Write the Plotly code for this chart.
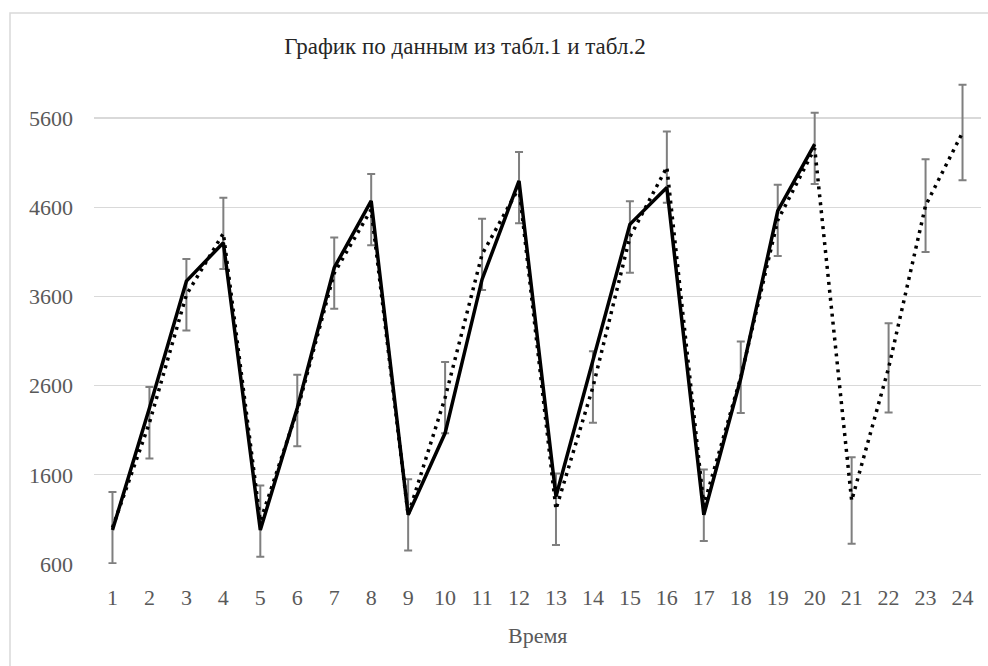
import plotly.graph_objects as go

time_points = list(range(1, 25))
tick_labels = [str(t) for t in time_points]

# Series 1 (solid line, table 1) – times 1..20
table1_values = [982, 2350, 3772, 4203, 982, 2350, 3922, 4671, 1151, 2068,
                 3791, 4896, 1356, 2892, 4409, 4821, 1151, 2680, 4559, 5308]

# Series 2 (dotted line with error bars, table 2) – times 1..24
table2_values = [1008, 2184, 3619, 4308, 1080, 2321, 3862, 4574, 1151, 2465,
                 4072, 4821, 1214, 2585, 4267, 5050, 1259, 2694, 4454, 5261,
                 1311, 2799, 4619, 5439]
table2_errors = [400, 400, 400, 400, 400, 400, 400, 400, 400, 400,
                 400, 400, 400, 400, 400, 400, 400, 400, 400, 400,
                 485, 500, 520, 535]

y_ticks = [600, 1600, 2600, 3600, 4600, 5600]

FONT = "Liberation Serif"

fig = go.Figure()

fig.add_trace(go.Scatter(
    x=time_points, y=table2_values, mode="lines",
    line=dict(color="black", width=3.5, dash="3px,5px"),
    error_y=dict(type="data", array=table2_errors, visible=True,
                 color="#7f7f7f", thickness=2, width=4),
    showlegend=False, cliponaxis=False, hoverinfo="skip",
))

fig.add_trace(go.Scatter(
    x=time_points[:len(table1_values)], y=table1_values, mode="lines",
    line=dict(color="black", width=3.5),
    showlegend=False, cliponaxis=False, hoverinfo="skip",
))

fig.update_layout(
    width=988, height=666,
    margin=dict(l=94, r=7, t=78, b=102),
    paper_bgcolor="white", plot_bgcolor="white",
    font=dict(family=FONT, color="#595959", size=22),
    title=dict(text="График по данным из табл.1 и табл.2",
               x=465 / 988, xanchor="center", xref="container",
               y=1 - 46 / 666, yanchor="middle", yref="container",
               font=dict(family=FONT, size=23, color="#262626")),
    xaxis=dict(range=[0.5, 24.5], tickvals=time_points, ticktext=tick_labels,
               showgrid=False, zeroline=False, showline=False, ticks="",
               ticklabelstandoff=18, tickfont=dict(size=22, color="#595959")),
    yaxis=dict(range=[600, 6050], tickvals=y_ticks,
               ticktext=[str(v) for v in y_ticks],
               showgrid=True, gridcolor="#d9d9d9", gridwidth=1.3,
               zeroline=False, showline=False, ticks="",
               ticklabelstandoff=20, tickfont=dict(size=22, color="#595959")),
    annotations=[dict(text="Время", xref="paper", yref="paper",
                      x=0.5, y=(564 - 635) / 486, xanchor="center",
                      yanchor="middle", showarrow=False,
                      font=dict(family=FONT, size=22, color="#595959"))],
    shapes=[dict(type="rect", xref="paper", yref="paper",
                 x0=(10 - 94) / 887, x1=1.2, y0=-0.5, y1=(564 - 13) / 486,
                 line=dict(color="#d9d9d9", width=1.5), layer="below")],
)

fig.write_html("out.html",
               config={"displayModeBar": False, "staticPlot": True},
               post_script="document.body.style.margin='0';"
                           "document.body.style.overflow='hidden';")
